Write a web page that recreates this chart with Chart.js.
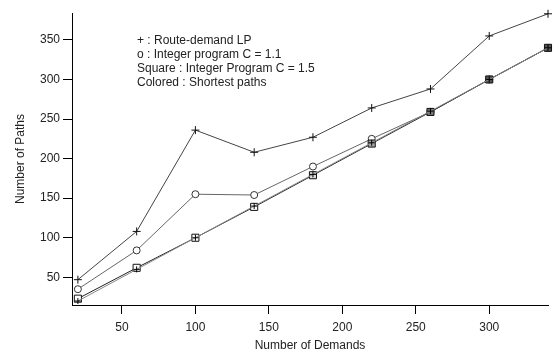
<!DOCTYPE html>
<html lang="en">
<head>
    <meta charset="UTF-8">
    <title>Number of Paths vs Number of Demands</title>
    <script src="https://cdn.jsdelivr.net/npm/chart.js"></script>
    <style>
        body {
            margin: 0;
            padding: 0;
            background: #fff;
        }
        .chart-box {
            width: 558px;
            height: 354px;
        }
    </style>
</head>
<body>
    <div class="chart-box">
        <canvas id="pathsChart"></canvas>
    </div>

    <script>
        var demands = [20, 60, 100, 140, 180, 220, 260, 300, 340];
        var routeDemandLP = [47, 108, 236, 208, 227, 264, 288, 355, 383];
        var intProg11 = [35, 84, 155, 154, 190, 225, 259, 300, 340];
        var intProg15 = [23, 62, 100, 139, 179, 219, 259, 300, 340];
        var shortestPaths = [20, 60, 100, 140, 180, 220, 260, 300, 340];

        var xTicks = [50, 100, 150, 200, 250, 300];
        var yTicks = [50, 100, 150, 200, 250, 300, 350];

        var notes = [
            '+ : Route-demand LP',
            'o : Integer program C = 1.1',
            'Square : Integer Program C = 1.5',
            'Colored : Shortest paths'
        ];

        function pairs(ys) {
            return demands.map(function(x, i) { return { x: x, y: ys[i] }; });
        }

        var FONT = { family: "'Liberation Sans', Arial, sans-serif", size: 12 };

        // the note block written inside the plot
        var notesPlugin = {
            id: 'notes',
            afterDraw: function(chart) {
                var ctx = chart.ctx;
                var area = chart.chartArea;
                ctx.save();
                ctx.font = '12px ' + FONT.family;
                ctx.fillStyle = '#222';
                ctx.textBaseline = 'middle';
                ctx.textAlign = 'left';
                notes.forEach(function(t, i) {
                    ctx.fillText(t, area.left + 65, area.top + 28 + i * 14);
                });
                ctx.restore();
            }
        };

        var squareFill = ['#fff', '#fff', '#fff', '#fff', '#ddd', '#aaa', '#777', '#555', '#555'];

        new Chart(document.getElementById('pathsChart').getContext('2d'), {
            type: 'line',
            data: {
                datasets: [{
                    label: 'Shortest paths',
                    data: pairs(shortestPaths),
                    borderColor: '#888',
                    borderWidth: 1,
                    pointStyle: 'cross',
                    pointRadius: 3,
                    pointBorderColor: '#000',
                    pointBorderWidth: 1,
                    tension: 0,
                    clip: false,
                    order: 0
                }, {
                    label: 'Integer Program C = 1.5',
                    data: pairs(intProg15),
                    borderColor: '#222',
                    borderWidth: 1,
                    pointStyle: 'rect',
                    pointRadius: 5,
                    pointBackgroundColor: squareFill,
                    pointBorderColor: '#111',
                    pointBorderWidth: 1,
                    tension: 0,
                    clip: false,
                    order: 1
                }, {
                    label: 'Integer program C = 1.1',
                    data: pairs(intProg11),
                    borderColor: '#666',
                    borderWidth: 1,
                    pointStyle: 'circle',
                    pointRadius: 3.5,
                    pointBackgroundColor: '#fff',
                    pointBorderColor: '#333',
                    pointBorderWidth: 1,
                    tension: 0,
                    clip: false,
                    order: 2
                }, {
                    label: 'Route-demand LP',
                    data: pairs(routeDemandLP),
                    borderColor: '#444',
                    borderWidth: 1,
                    pointStyle: 'cross',
                    pointRadius: 4,
                    pointBorderColor: '#111',
                    pointBorderWidth: 1,
                    tension: 0,
                    clip: false,
                    order: 3
                }]
            },
            options: {
                responsive: true,
                maintainAspectRatio: false,
                animation: false,
                layout: {
                    padding: { top: 13, right: 10, left: 0, bottom: 0 }
                },
                plugins: {
                    legend: { display: false },
                    tooltip: { enabled: false }
                },
                scales: {
                    x: {
                        type: 'linear',
                        min: 16,
                        max: 340,
                        afterFit: function(s) { s.height = 49; },
                        afterBuildTicks: function(s) {
                            s.ticks = xTicks.map(function(v) { return { value: v }; });
                        },
                        grid: {
                            drawOnChartArea: false,
                            drawTicks: true,
                            tickLength: 9,
                            tickColor: '#000'
                        },
                        border: { display: true, color: '#000', width: 1 },
                        ticks: {
                            color: '#222',
                            font: FONT,
                            padding: 6,
                            maxRotation: 0
                        },
                        title: {
                            display: true,
                            text: 'Number of Demands',
                            color: '#222',
                            font: FONT,
                            padding: { top: 0, bottom: 1 }
                        }
                    },
                    y: {
                        type: 'linear',
                        min: 15,
                        max: 384,
                        afterFit: function(s) { s.width = 72; },
                        afterBuildTicks: function(s) {
                            s.ticks = yTicks.map(function(v) { return { value: v }; });
                        },
                        grid: {
                            drawOnChartArea: false,
                            drawTicks: true,
                            tickLength: 9,
                            tickColor: '#000'
                        },
                        border: { display: true, color: '#000', width: 1 },
                        ticks: {
                            color: '#222',
                            font: FONT,
                            padding: 3
                        },
                        title: {
                            display: true,
                            text: 'Number of Paths',
                            color: '#222',
                            font: FONT,
                            padding: { top: 13, bottom: 0 }
                        }
                    }
                }
            },
            plugins: [notesPlugin]
        });
    </script>
</body>
</html>
